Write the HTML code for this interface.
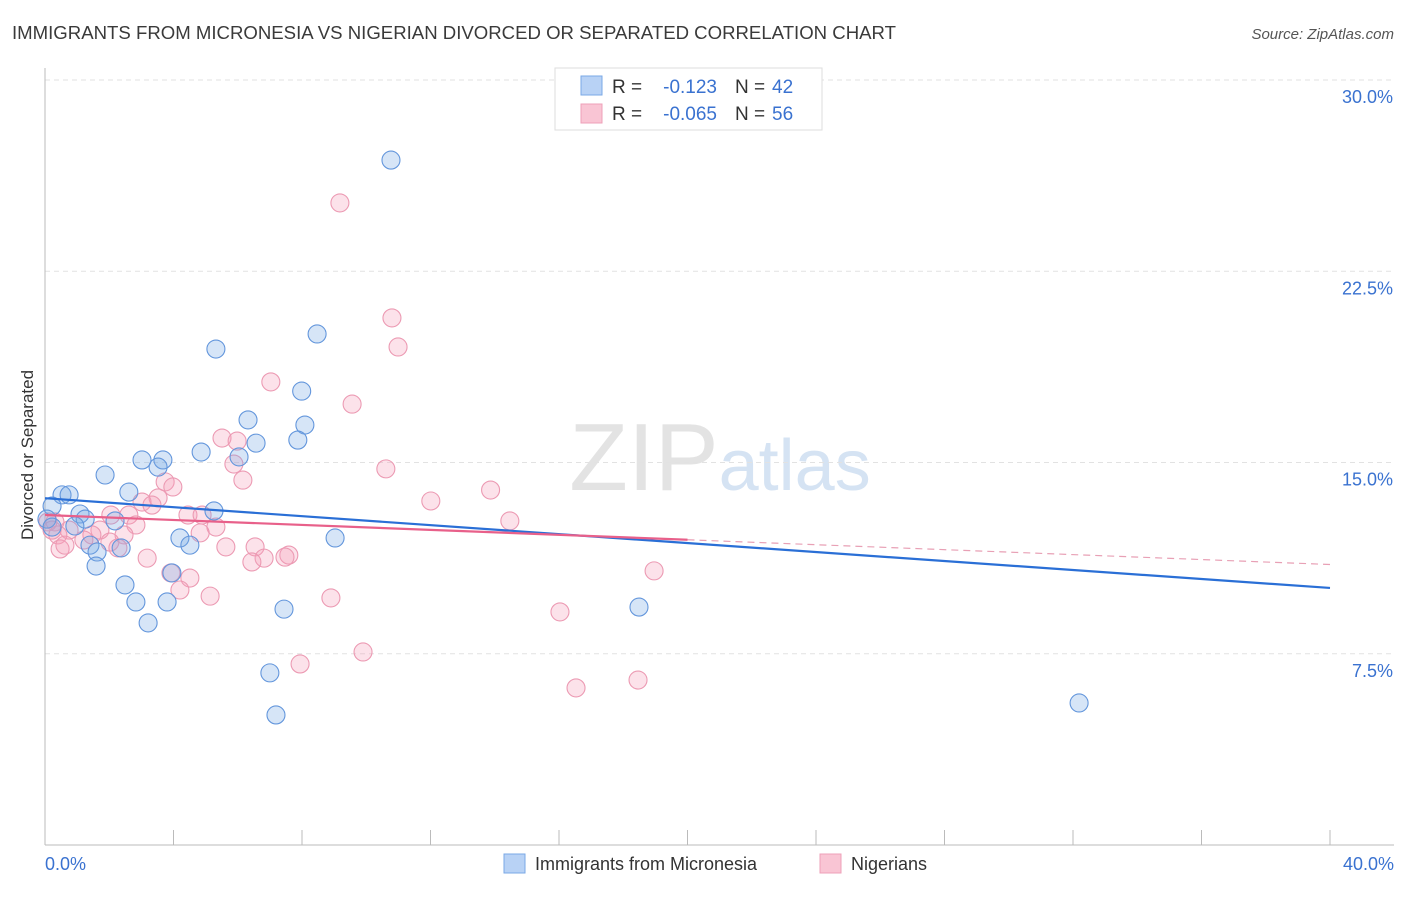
<!DOCTYPE html>
<html><head><meta charset="utf-8"><style>
body{margin:0;background:#fff;font-family:"Liberation Sans",sans-serif;}
svg text{font-family:"Liberation Sans",sans-serif;}
</style></head><body>
<svg id="chart" width="1406" height="892" xmlns="http://www.w3.org/2000/svg">
<text x="12" y="39" font-size="18.6" fill="#3a3a3a">IMMIGRANTS FROM MICRONESIA VS NIGERIAN DIVORCED OR SEPARATED CORRELATION CHART</text>
<text x="1394" y="39" font-size="15" font-style="italic" fill="#555" text-anchor="end">Source: ZipAtlas.com</text>
<text x="720" y="490" font-size="96" text-anchor="middle" fill="#e3e3e3" font-family="Liberation Serif">ZIP<tspan fill="#d5e3f3" font-family="Liberation Sans" font-size="72">atlas</tspan></text>
<g id="grid"></g>
<g id="axes"></g>
<g id="marks"></g>
<text transform="translate(33,455) rotate(-90)" font-size="17" fill="#333" text-anchor="middle">Divorced or Separated</text>
<g>
<rect x="555" y="68" width="267" height="62" fill="#fff" stroke="#ddd"/>
<rect x="581" y="76" width="21" height="19" fill="#b8d2f5" stroke="#7aa8e6"/>
<rect x="581" y="104" width="21" height="19" fill="#f9c5d4" stroke="#eea0b8"/>
<text x="612" y="93" font-size="19" fill="#333">R =</text>
<text x="717" y="93" font-size="19" fill="#3a72d0" text-anchor="end">-0.123</text>
<text x="735" y="93" font-size="19" fill="#333">N =</text>
<text x="772" y="93" font-size="19" fill="#3a72d0">42</text>
<text x="612" y="120" font-size="19" fill="#333">R =</text>
<text x="717" y="120" font-size="19" fill="#3a72d0" text-anchor="end">-0.065</text>
<text x="735" y="120" font-size="19" fill="#333">N =</text>
<text x="772" y="120" font-size="19" fill="#3a72d0">56</text>
</g>
<g>
<rect x="504" y="854" width="21" height="19" fill="#b8d2f5" stroke="#7aa8e6"/>
<text x="535" y="870" font-size="18" fill="#333">Immigrants from Micronesia</text>
<rect x="820" y="854" width="21" height="19" fill="#f9c5d4" stroke="#eea0b8"/>
<text x="851" y="870" font-size="18" fill="#333">Nigerians</text>
</g>
</svg>
<script>
const yTicks=[30,22.5,15,7.5];
const yTickLabels=["30.0%","22.5%","15.0%","7.5%"];
const xTickVals=[0,4,8,12,16,20,24,28,32,36,40];
const xEndLabels=["0.0%","40.0%"];
const blueX=[10.77,8.47,5.32,7.99,6.32,8.09,7.87,6.57,4.86,6.04,3.02,3.67,3.52,1.87,0.53,0.75,2.61,0.22,5.26,1.09,1.25,2.18,0.93,9.03,4.20,4.51,1.40,2.37,1.62,1.59,3.95,2.49,2.83,3.80,3.21,7.44,18.49,7.00,7.19,32.19,0.06,0.22];
const blueY=[26.86,20.04,19.45,17.80,16.67,16.47,15.88,15.76,15.41,15.22,15.10,15.10,14.82,14.51,13.73,13.73,13.84,13.29,13.10,12.98,12.78,12.71,12.51,12.04,12.04,11.76,11.76,11.65,11.49,10.94,10.67,10.20,9.53,9.53,8.71,9.25,9.33,6.75,5.10,5.57,12.78,12.47];
const pinkX=[9.18,10.80,10.99,7.03,9.56,5.51,5.98,5.88,10.61,6.16,3.74,3.98,3.52,12.01,13.87,3.02,3.33,2.05,2.61,4.45,4.89,14.47,2.83,5.32,1.71,0.75,0.31,1.46,2.46,1.21,4.83,0.40,2.02,5.63,6.54,2.27,0.47,7.59,6.82,7.47,6.44,3.18,3.92,4.51,18.96,4.20,5.14,8.90,16.03,7.94,9.90,18.46,16.53,0.09,0.22,0.62];
const pinkY=[25.18,20.67,19.53,18.16,17.29,15.96,15.84,14.94,14.75,14.31,14.24,14.04,13.61,13.49,13.92,13.45,13.33,12.94,12.94,12.94,12.94,12.71,12.55,12.47,12.35,12.35,12.67,12.16,12.16,11.96,12.24,12.16,11.88,11.69,11.69,11.65,11.61,11.37,11.25,11.29,11.10,11.25,10.67,10.47,10.75,10.00,9.76,9.69,9.14,7.10,7.57,6.47,6.16,12.67,12.35,11.76];
const blueTrend=[13.6,10.08];
const pinkTrend=[12.94,11.0];
const NS="http://www.w3.org/2000/svg";
const X=v=>45+v/40*1285, Y=v=>845-v*25.5;
function mk(t,a,p){const e=document.createElementNS(NS,t);for(const k in a)e.setAttribute(k,a[k]);p.appendChild(e);return e;}
const grid=document.getElementById('grid'),axes=document.getElementById('axes'),marks=document.getElementById('marks');
yTicks.forEach((v,i)=>{
 const l=mk('line',{x1:45,x2:1394,y1:Y(v),y2:Y(v),stroke:'#e2e2e2','stroke-dasharray':'5,4'},grid);
 
 
 const t=mk('text',{x:1393,y:Y(v)+23,'font-size':18,fill:'#3a72d0','text-anchor':'end'},axes);
 t.textContent=yTickLabels[i];
 
 
});
let a=mk('line',{x1:45,x2:45,y1:68,y2:845,stroke:'#bbb'},axes);


a=mk('line',{x1:45,x2:1394,y1:845,y2:845,stroke:'#bbb'},axes);


xTickVals.forEach(v=>{
 const t=mk('line',{x1:X(v),x2:X(v),y1:830,y2:845,stroke:'#bbb'},axes);
 
 
});
[[0,'start',45],[40,'end',1394]].forEach((d,i)=>{
 const t=mk('text',{x:d[2],y:870,'font-size':18,fill:'#3a72d0','text-anchor':d[1]},axes);
 t.textContent=xEndLabels[i];
 
 
});
function dots(xs,ys,fill,stroke,name){xs.forEach((x,i)=>{
 const c=mk('circle',{cx:X(x),cy:Y(ys[i]),r:9,fill:fill,stroke:stroke,'stroke-width':1.1},marks);
 
 
});}
dots(pinkX,pinkY,'rgba(244,160,186,0.3)','#ec9ab3','nigerian-point');
dots(blueX,blueY,'rgba(120,170,230,0.3)','#6396dc','micronesia-point');
let l=mk('line',{x1:X(0),y1:Y(blueTrend[0]),x2:X(40),y2:Y(blueTrend[1]),stroke:'#2a6fd6','stroke-width':2.2},marks);


const pm=pinkTrend[0]+(pinkTrend[1]-pinkTrend[0])*0.5;
l=mk('line',{x1:X(0),y1:Y(pinkTrend[0]),x2:X(20),y2:Y(pm),stroke:'#e8608a','stroke-width':2.2},marks);


l=mk('line',{x1:X(20),y1:Y(pm),x2:X(40),y2:Y(pinkTrend[1]),stroke:'#e8a0b5','stroke-width':1.2,'stroke-dasharray':'7,5'},marks);


</script>
</body></html>
